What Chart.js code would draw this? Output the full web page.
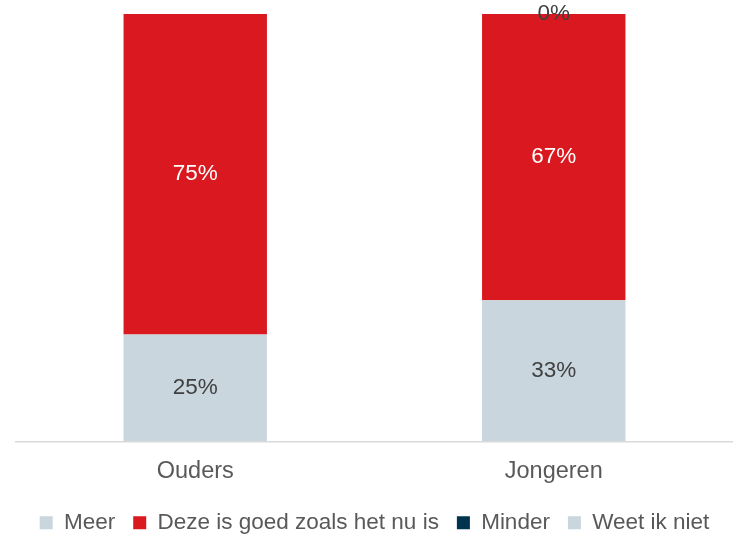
<!DOCTYPE html>
<html>
<head>
<meta charset="utf-8">
<script src="https://cdn.jsdelivr.net/npm/chart.js@4"></script>
<style>
  html, body { margin: 0; padding: 0; background: #fff; }
  #wrap { width: 733px; height: 536px; position: relative; }
</style>
</head>
<body>
<div id="wrap"><canvas id="chart"></canvas></div>
<script>
const categories = ['Ouders', 'Jongeren'];
const seriesNames = ['Meer', 'Deze is goed zoals het nu is', 'Minder', 'Weet ik niet'];
const meer = [25, 33];
const goed = [75, 67];
const minder = [null, 0];
const weetNiet = [null, null];
const seriesColors = ['#c9d6dd', '#d9191f', '#00334e', '#c9d6dd'];
const labelColors = ['#404040', '#ffffff', '#404040', '#404040'];

const FONT = "'Liberation Sans', Arial, sans-serif";

// draws the value labels in the middle of every segment
const barLabels = {
  id: 'barLabels',
  afterDatasetsDraw(chart) {
    const ctx = chart.ctx;
    ctx.save();
    ctx.font = '22.5px ' + FONT;
    ctx.textAlign = 'center';
    ctx.textBaseline = 'middle';
    chart.data.datasets.forEach((ds, i) => {
      const meta = chart.getDatasetMeta(i);
      meta.data.forEach((bar, j) => {
        const v = ds.data[j];
        if (v === null || v === undefined) return;
        const y = (bar.y + bar.base) / 2;
        ctx.fillStyle = labelColors[i];
        ctx.fillText(v + '%', bar.x, y);
      });
    });
    ctx.restore();
  }
};

const datasets = [meer, goed, minder, weetNiet].map((d, i) => ({
  label: seriesNames[i],
  data: d,
  backgroundColor: seriesColors[i],
  barPercentage: 0.4,
  categoryPercentage: 1
}));

new Chart(document.getElementById('chart'), {
  type: 'bar',
  data: { labels: categories, datasets },
  options: {
    responsive: true,
    maintainAspectRatio: false,
    animation: false,
    layout: { padding: { top: 14, left: 16, right: 0, bottom: -8 } },
    plugins: {
      legend: {
        position: 'bottom',
        labels: {
          font: { family: FONT, size: 22.5 },
          color: '#595959',
          boxWidth: 13,
          boxHeight: 13,
          padding: 18
        }
      },
      tooltip: { enabled: false }
    },
    scales: {
      x: {
        stacked: true,
        grid: { display: false },
        border: { color: '#d9d9d9', width: 1.5 },
        ticks: { font: { family: FONT, size: 23.5 }, color: '#595959', padding: 8 }
      },
      y: {
        stacked: true,
        display: false,
        min: 0,
        max: 100
      }
    }
  },
  plugins: [barLabels]
});
</script>
</body>
</html>
